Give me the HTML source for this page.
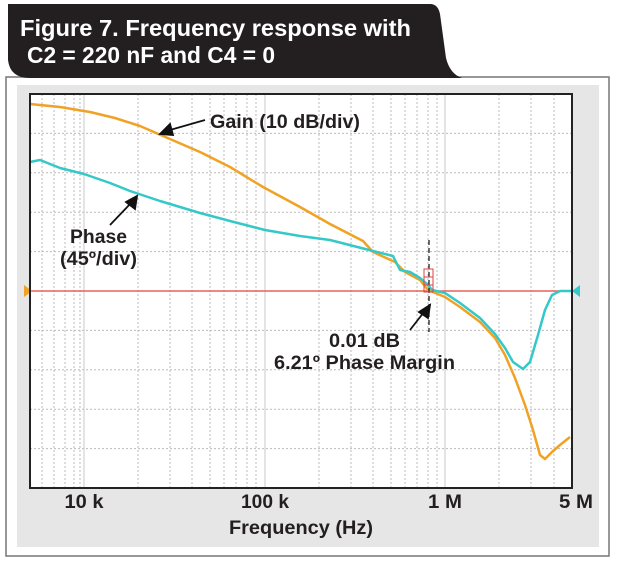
<!DOCTYPE html>
<html><head><meta charset="utf-8"><style>
body{margin:0;background:#fff;width:617px;height:563px;overflow:hidden}
svg{display:block}
</style></head><body>
<svg width="617" height="563" viewBox="0 0 617 563" xmlns="http://www.w3.org/2000/svg" font-family="Liberation Sans, sans-serif">
<rect x="6" y="77" width="603" height="479" fill="#fff" stroke="#777" stroke-width="1.5"/>
<path d="M8,4 H430 Q438,4 440,14 L446,58 Q450,74 462,78 H30 Q10,78 8,60 Z" fill="#231f20"/>
<g fill="#fff" font-weight="bold" font-size="23">
<text x="20" y="36" textLength="391" lengthAdjust="spacingAndGlyphs">Figure 7. Frequency response with</text>
<text x="27" y="63" textLength="248" lengthAdjust="spacingAndGlyphs">C2 = 220 nF and C4 = 0</text>
</g>
<rect x="17" y="85" width="582" height="462" fill="#e6e6e7"/>
<rect x="30" y="94" width="542" height="394" fill="#fff"/>
<g stroke="#bbb" stroke-width="1" stroke-dasharray="2,2">
<line x1="30" y1="133.4" x2="572" y2="133.4"/><line x1="30" y1="172.8" x2="572" y2="172.8"/>
<line x1="30" y1="212.2" x2="572" y2="212.2"/><line x1="30" y1="251.6" x2="572" y2="251.6"/>
<line x1="30" y1="330.4" x2="572" y2="330.4"/><line x1="30" y1="369.8" x2="572" y2="369.8"/>
<line x1="30" y1="409.2" x2="572" y2="409.2"/><line x1="30" y1="448.6" x2="572" y2="448.6"/>
<line x1="42" y1="94" x2="42" y2="488"/><line x1="54" y1="94" x2="54" y2="488"/><line x1="65" y1="94" x2="65" y2="488"/><line x1="74" y1="94" x2="74" y2="488"/><line x1="80" y1="94" x2="80" y2="488"/>
<line x1="138" y1="94" x2="138" y2="488"/><line x1="170" y1="94" x2="170" y2="488"/><line x1="192" y1="94" x2="192" y2="488"/><line x1="210" y1="94" x2="210" y2="488"/><line x1="224" y1="94" x2="224" y2="488"/><line x1="236" y1="94" x2="236" y2="488"/><line x1="247" y1="94" x2="247" y2="488"/><line x1="256" y1="94" x2="256" y2="488"/>
<line x1="319" y1="94" x2="319" y2="488"/><line x1="351" y1="94" x2="351" y2="488"/><line x1="373" y1="94" x2="373" y2="488"/><line x1="391" y1="94" x2="391" y2="488"/><line x1="405" y1="94" x2="405" y2="488"/><line x1="417" y1="94" x2="417" y2="488"/><line x1="428" y1="94" x2="428" y2="488"/><line x1="437" y1="94" x2="437" y2="488"/>
<line x1="499" y1="94" x2="499" y2="488"/><line x1="531" y1="94" x2="531" y2="488"/><line x1="554" y1="94" x2="554" y2="488"/>
</g>
<g stroke="#c8c8c8" stroke-width="1"><line x1="84" y1="94" x2="84" y2="488"/><line x1="265" y1="94" x2="265" y2="488"/><line x1="445" y1="94" x2="445" y2="488"/></g>
<line x1="30" y1="291" x2="572" y2="291" stroke="#e8605a" stroke-width="1.5"/>
<polyline fill="none" stroke="#f0a224" stroke-width="2.5" stroke-linejoin="round" points="30,104 60,107 90,112 115,118 140,126 163,136 200,152 230,167 263,187 300,207 330,224 363,241 373,252 395,262 405,272 420,280 428,290 445,297 460,307 480,322 495,338 505,355 515,378 525,405 533,430 540,455 545,459 552,452 560,445 570,437"/>
<polyline fill="none" stroke="#35c8c8" stroke-width="2.5" stroke-linejoin="round" points="30,162 40,160 60,168 84,174 110,183 130,191 160,201 200,213 230,221 265,230 300,236 330,240 373,251 393,256 400,270 410,272 420,278 428,285 432,290 445,293 460,303 480,318 495,334 505,348 513,362 523,369 530,362 538,335 545,310 552,295 560,291 572,291"/>
<line x1="429" y1="240" x2="429" y2="332" stroke="#222" stroke-width="1.3" stroke-dasharray="5,3"/>
<g fill="none" stroke="#e04040" stroke-width="1"><rect x="424" y="269" width="9" height="8"/><rect x="424" y="277" width="9" height="8"/><rect x="424" y="285" width="9" height="7"/></g>
<polygon points="24,285 24,297 32,291" fill="#f0a224"/>
<polygon points="580,285 580,297 572,291" fill="#35c8c8"/>
<rect x="30" y="94" width="542" height="394" fill="none" stroke="#222" stroke-width="2"/>
<g fill="#231f20" font-size="19" font-weight="bold">
<text x="210" y="128" textLength="150" lengthAdjust="spacingAndGlyphs">Gain (10 dB/div)</text>
<text x="70" y="243" textLength="57" lengthAdjust="spacingAndGlyphs">Phase</text><text x="60" y="265" textLength="77" lengthAdjust="spacingAndGlyphs">(45º/div)</text>
<text x="329" y="347" textLength="71" lengthAdjust="spacingAndGlyphs">0.01 dB</text><text x="274" y="369" textLength="181" lengthAdjust="spacingAndGlyphs">6.21º Phase Margin</text>
</g>
<g stroke="#111" stroke-width="1.8" fill="#111">
<line x1="205" y1="120" x2="170" y2="130"/><polygon points="160,134 170,124 173,135"/>
<line x1="110" y1="225" x2="131" y2="203"/><polygon points="137,196 135,209 126,202"/>
<line x1="410" y1="330" x2="424" y2="312"/><polygon points="430,305 428,318 419,312"/>
</g>
<g fill="#231f20" font-weight="bold" font-size="19" text-anchor="middle">
<text x="84" y="508" textLength="39" lengthAdjust="spacingAndGlyphs">10 k</text><text x="265" y="508" textLength="48" lengthAdjust="spacingAndGlyphs">100 k</text><text x="445" y="508" textLength="34" lengthAdjust="spacingAndGlyphs">1 M</text><text x="576" y="508" textLength="34" lengthAdjust="spacingAndGlyphs">5 M</text>
<text x="301" y="534" textLength="144" lengthAdjust="spacingAndGlyphs">Frequency (Hz)</text>
</g>
</svg>
</body></html>
